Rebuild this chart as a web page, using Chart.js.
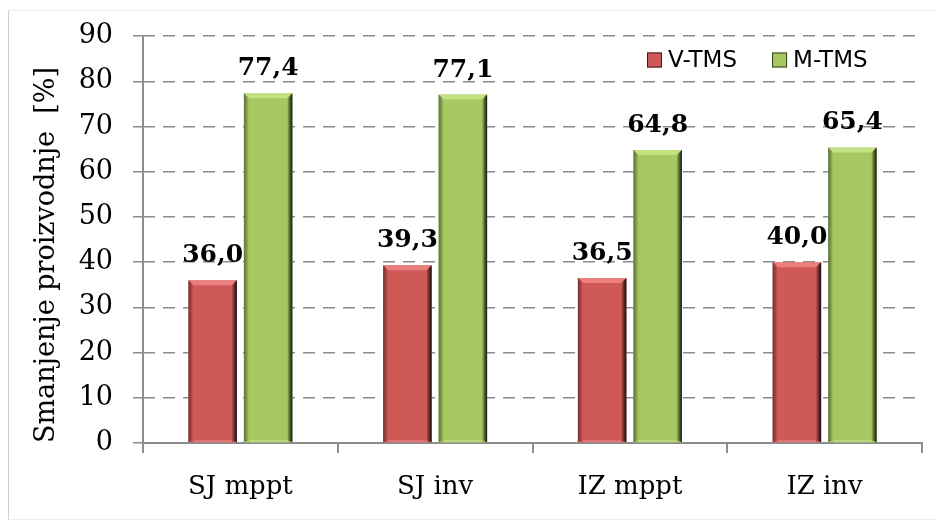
<!DOCTYPE html>
<html>
<head>
<meta charset="utf-8">
<script src="https://cdn.jsdelivr.net/npm/chart.js@4/dist/chart.umd.min.js"></script>
<style>
  html, body { margin: 0; padding: 0; background: #fff; }
  #wrap { position: relative; width: 937px; height: 522px; }
</style>
</head>
<body>
<div id="wrap"><canvas id="chart" width="937" height="522"></canvas></div>
<script>
const categories = ['SJ mppt', 'SJ inv', 'IZ mppt', 'IZ inv'];
const vTms = [36.0, 39.3, 36.5, 40.0];
const mTms = [77.4, 77.1, 64.8, 65.4];
const seriesNames = ['V-TMS', 'M-TMS'];
const yTicks = [0, 10, 20, 30, 40, 50, 60, 70, 80, 90];

const faces = ['#cf5957', '#a6c862'];
const darks = ['#4a1716', '#33421a'];
const lights = ['#f08684', '#c8e68a'];

// frame around the whole picture, like the copied figure
const framePlugin = {
  id: 'frame',
  beforeDraw(chart) {
    const ctx = chart.ctx;
    ctx.save();
    ctx.fillStyle = '#fff';
    ctx.fillRect(0, 0, chart.width, chart.height);
    ctx.strokeStyle = '#ececec';
    ctx.lineWidth = 1;
    ctx.strokeRect(8.5, 10.5, 935, 509);
    ctx.strokeStyle = '#d0d0d0';
    ctx.beginPath();
    ctx.moveTo(8.5, 10.5);
    ctx.lineTo(8.5, 519.5);
    ctx.stroke();
    ctx.restore();
  },
  // solid y axis line (grid lines are dashed)
  beforeDatasetsDraw(chart) {
    const ctx = chart.ctx, a = chart.chartArea;
    ctx.save();
    ctx.strokeStyle = '#8c8c8c';
    ctx.lineWidth = 2;
    ctx.beginPath();
    ctx.moveTo(a.left, a.top);
    ctx.lineTo(a.left, a.bottom + 1);
    ctx.stroke();
    ctx.restore();
  }
};

// bevel look on the bars
const bevelPlugin = {
  id: 'bevel',
  afterDatasetsDraw(chart) {
    const ctx = chart.ctx;
    chart.data.datasets.forEach((ds, di) => {
      const meta = chart.getDatasetMeta(di);
      meta.data.forEach(bar => {
        const l = bar.x - bar.width / 2, r = bar.x + bar.width / 2;
        const t = bar.y, b = bar.base;
        const e = 5;
        ctx.save();
        // left side
        let g = ctx.createLinearGradient(l, 0, l + e, 0);
        g.addColorStop(0, darks[di]);
        g.addColorStop(1, 'rgba(0,0,0,0)');
        ctx.fillStyle = g;
        ctx.globalAlpha = 0.6;
        ctx.beginPath();
        ctx.moveTo(l, t); ctx.lineTo(l + e, t + e); ctx.lineTo(l + e, b - 2); ctx.lineTo(l, b);
        ctx.closePath(); ctx.fill();
        // right side
        g = ctx.createLinearGradient(r - e, 0, r, 0);
        g.addColorStop(0, 'rgba(0,0,0,0.1)');
        g.addColorStop(1, '#0a0a0a');
        ctx.globalAlpha = 0.95;
        ctx.fillStyle = g;
        ctx.beginPath();
        ctx.moveTo(r, t); ctx.lineTo(r - e, t + e); ctx.lineTo(r - e, b - 2); ctx.lineTo(r, b);
        ctx.closePath(); ctx.fill();
        // top side
        ctx.globalAlpha = 0.85;
        ctx.fillStyle = lights[di];
        ctx.beginPath();
        ctx.moveTo(l + 1, t); ctx.lineTo(r - 1, t); ctx.lineTo(r - e, t + e); ctx.lineTo(l + e, t + e);
        ctx.closePath(); ctx.fill();
        // bottom edge
        ctx.globalAlpha = 0.7;
        ctx.fillStyle = lights[di];
        ctx.fillRect(l + e, b - 2, bar.width - 2 * e, 2);
        ctx.restore();
      });
    });
  }
};

// value labels above bars
const valueLabels = {
  id: 'valueLabels',
  afterDatasetsDraw(chart) {
    const ctx = chart.ctx;
    ctx.save();
    ctx.font = 'bold 25px "DejaVu Serif"';
    ctx.fillStyle = '#000';
    ctx.textAlign = 'center';
    ctx.textBaseline = 'alphabetic';
    chart.data.datasets.forEach((ds, di) => {
      chart.getDatasetMeta(di).data.forEach((bar, i) => {
        ctx.fillText(ds.data[i].toFixed(1).replace('.', ','), bar.x, bar.y - 18);
      });
    });
    ctx.restore();
  }
};

// legend inside the plot, top right
const insideLegend = {
  id: 'insideLegend',
  afterDraw(chart) {
    const ctx = chart.ctx;
    ctx.save();
    ctx.font = '23px "DejaVu Sans"';
    ctx.textBaseline = 'middle';
    ctx.fillStyle = '#000';
    let x = 647;
    const cy = 60;
    chart.data.datasets.forEach((ds, di) => {
      ctx.fillStyle = faces[di];
      ctx.fillRect(x, cy - 7.5, 15, 15);
      ctx.strokeStyle = darks[di];
      ctx.lineWidth = 1;
      ctx.strokeRect(x + 0.5, cy - 7, 14, 14);
      ctx.fillStyle = '#000';
      ctx.fillText(ds.label, x + 21, cy + 1);
      x += 21 + ctx.measureText(ds.label).width + 35;
    });
    ctx.restore();
  }
};

new Chart(document.getElementById('chart'), {
  type: 'bar',
  data: {
    labels: categories,
    datasets: [
      { label: seriesNames[0], data: vTms, backgroundColor: faces[0] },
      { label: seriesNames[1], data: mTms, backgroundColor: faces[1] }
    ]
  },
  options: {
    responsive: false,
    animation: false,
    events: [],
    categoryPercentage: 0.57,
    barPercentage: 0.874,
    layout: { padding: { top: 32, right: 15, left: 31, bottom: 0 } },
    plugins: {
      legend: { display: false },
      tooltip: { enabled: false }
    },
    scales: {
      x: {
        offset: true,
        grid: { offset: true, drawOnChartArea: false, tickLength: 10, color: '#8c8c8c', lineWidth: 2 },
        border: { color: '#8c8c8c', width: 2 },
        ticks: { color: '#000', font: { family: 'DejaVu Serif', size: 26 }, padding: 19 },
        afterFit(scale) { scale.height = 79; }
      },
      y: {
        min: 0,
        max: 90,
        afterBuildTicks(scale) { scale.ticks = yTicks.map(v => ({ value: v })); },
        grid: { color: '#8c8c8c', lineWidth: 1.5, tickLength: 10 },
        border: { display: false, dash: [12, 8] },
        ticks: { color: '#000', font: { family: 'DejaVu Serif', size: 27 }, padding: 20 },
        title: {
          display: true,
          text: 'Smanjenje proizvodnje  [%]',
          align: 'start',
          color: '#000',
          font: { family: 'DejaVu Serif', size: 27 },
          padding: 0
        },
        afterFit(scale) { scale.width = 143 - 31; }
      }
    }
  },
  plugins: [framePlugin, bevelPlugin, valueLabels, insideLegend]
});
</script>
</body>
</html>
